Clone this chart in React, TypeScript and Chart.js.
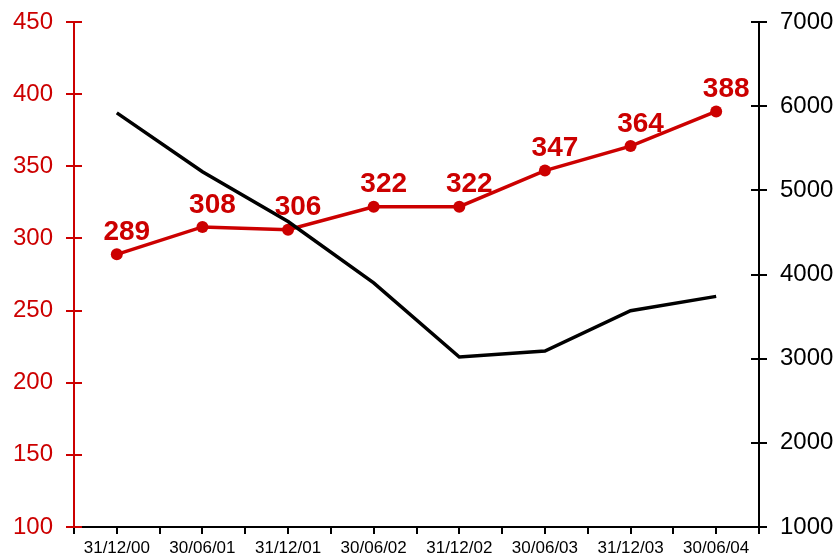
import React, { useEffect, useRef } from "react";
import { Chart, registerables } from "chart.js";

Chart.register(...registerables);

const categories = ["31/12/00", "30/06/01", "31/12/01", "30/06/02", "31/12/02", "30/06/03", "31/12/03", "30/06/04"];
const redValues = [289, 308, 306, 322, 322, 347, 364, 388];
const blackValues = [5920, 5220, 4630, 3900, 3020, 3090, 3570, 3740];
const leftTicks = { min: 100, max: 450, step: 50 };
const rightTicks = { min: 1000, max: 7000, step: 1000 };

const RED = "#cc0000";
const FONT = "'Liberation Sans', Arial, sans-serif";

const axesPlugin = {
  id: "customAxes",
  beforeDatasetsDraw(chart: any) {
    const ctx = chart.ctx;
    const area = chart.chartArea;
    const y = chart.scales.y;
    const y1 = chart.scales.y1;
    ctx.save();
    ctx.lineWidth = 2;
    // x axis
    ctx.strokeStyle = "#000";
    ctx.beginPath();
    ctx.moveTo(area.left, area.bottom);
    ctx.lineTo(area.right, area.bottom);
    const n = categories.length;
    const w = (area.right - area.left) / n;
    for (let i = 0; i <= n * 2; i++) {
      const px = Math.round(area.left + (i * w) / 2);
      ctx.moveTo(px, area.bottom);
      ctx.lineTo(px, area.bottom + 7);
    }
    ctx.stroke();
    // right axis
    ctx.beginPath();
    ctx.moveTo(area.right, area.top);
    ctx.lineTo(area.right, area.bottom);
    for (let v = rightTicks.min; v <= rightTicks.max; v += rightTicks.step) {
      const py = Math.round(y1.getPixelForValue(v));
      ctx.moveTo(area.right - 8, py);
      ctx.lineTo(area.right + 8, py);
    }
    ctx.stroke();
    // left axis
    ctx.strokeStyle = RED;
    ctx.beginPath();
    ctx.moveTo(area.left, area.top);
    ctx.lineTo(area.left, area.bottom);
    for (let v = leftTicks.min; v <= leftTicks.max; v += leftTicks.step) {
      const py = Math.round(y.getPixelForValue(v));
      ctx.moveTo(area.left - 8, py);
      ctx.lineTo(area.left + 8, py);
    }
    ctx.stroke();
    ctx.restore();
  },
};

const labelsPlugin = {
  id: "valueLabels",
  afterDatasetsDraw(chart: any) {
    const ctx = chart.ctx;
    const meta = chart.getDatasetMeta(0);
    ctx.save();
    ctx.fillStyle = RED;
    ctx.font = `bold 28px ${FONT}`;
    ctx.textAlign = "center";
    ctx.textBaseline = "bottom";
    meta.data.forEach((pt: any, i: number) => {
      ctx.fillText(String(redValues[i]), pt.x + 10, pt.y - 8);
    });
    ctx.restore();
  },
};

const noPad = (s: any, width: number) => {
  s.width = width;
  s.paddingTop = 0;
  s.paddingBottom = 0;
};

export default function App() {
  const ref = useRef<HTMLCanvasElement>(null);
  useEffect(() => {
    if (!ref.current) return;
    const chart = new Chart(ref.current, {
      type: "line",
      data: {
        labels: categories,
        datasets: [
          {
            data: redValues,
            yAxisID: "y",
            borderColor: RED,
            backgroundColor: RED,
            borderWidth: 3.5,
            pointRadius: 6,
            pointBackgroundColor: RED,
            pointBorderWidth: 0,
            tension: 0,
            order: 1,
          },
          {
            data: blackValues,
            yAxisID: "y1",
            borderColor: "#000",
            borderWidth: 3.5,
            pointRadius: 0,
            tension: 0,
            order: 0,
          },
        ],
      },
      plugins: [axesPlugin, labelsPlugin],
      options: {
        animation: false,
        responsive: false,
        maintainAspectRatio: false,
        layout: { padding: { top: 22, left: 0, right: 0, bottom: 0 } },
        plugins: { legend: { display: false }, tooltip: { enabled: false } },
        scales: {
          x: {
            offset: true,
            grid: { display: false, drawTicks: false },
            border: { display: false },
            ticks: { color: "#000", font: { family: FONT, size: 17 }, padding: 11, maxRotation: 0, autoSkip: false },
            afterFit: (s: any) => { s.height = 27; s.paddingLeft = 0; s.paddingRight = 0; },
          },
          y: {
            position: "left",
            min: leftTicks.min,
            max: leftTicks.max,
            grid: { display: false, drawTicks: false },
            border: { display: false },
            ticks: { stepSize: leftTicks.step, color: RED, font: { family: FONT, size: 24 }, padding: 21 },
            afterFit: (s: any) => noPad(s, 74),
          },
          y1: {
            position: "right",
            min: rightTicks.min,
            max: rightTicks.max,
            grid: { display: false, drawTicks: false },
            border: { display: false },
            ticks: {
              stepSize: rightTicks.step,
              color: "#000",
              font: { family: FONT, size: 24 },
              padding: 21,
              callback: (v: any) => String(v),
            },
            afterFit: (s: any) => noPad(s, 77),
          },
        },
      },
    });
    return () => chart.destroy();
  }, []);
  return (
    <div style={{ position: "absolute", left: 0, top: 0, width: 836, height: 554, background: "#fff" }}>
      <canvas ref={ref} width={836} height={554} style={{ display: "block" }} />
    </div>
  );
}
